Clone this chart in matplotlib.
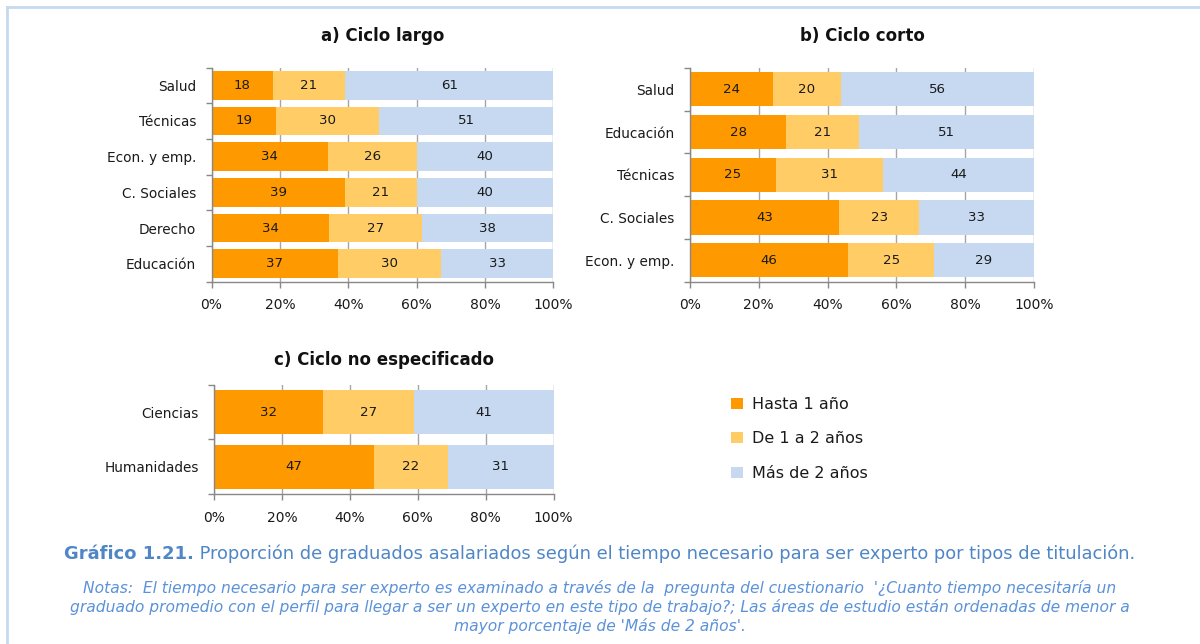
import matplotlib
matplotlib.use("Agg")
import matplotlib.pyplot as plt
from matplotlib.ticker import PercentFormatter, FixedLocator
from matplotlib.patches import Patch
from matplotlib.lines import Line2D
import numpy as np

# ---------------- data ----------------
series_names = ["Hasta 1 año", "De 1 a 2 años", "Más de 2 años"]
colors = ["#FF9900", "#FFCC66", "#C6D9F1"]

cat_a = ["Salud", "Técnicas", "Econ. y emp.", "C. Sociales", "Derecho", "Educación"]
hasta_a = [18, 19, 34, 39, 34, 37]
de1a2_a = [21, 30, 26, 21, 27, 30]
mas2_a = [61, 51, 40, 40, 38, 33]

cat_b = ["Salud", "Educación", "Técnicas", "C. Sociales", "Econ. y emp."]
hasta_b = [24, 28, 25, 43, 46]
de1a2_b = [20, 21, 31, 23, 25]
mas2_b = [56, 51, 44, 33, 29]

cat_c = ["Ciencias", "Humanidades"]
hasta_c = [32, 47]
de1a2_c = [27, 22]
mas2_c = [41, 31]

title_a = "a) Ciclo largo"
title_b = "b) Ciclo corto"
title_c = "c) Ciclo no especificado"

caption_bold = "Gráfico 1.21."
caption_rest = " Proporción de graduados asalariados según el tiempo necesario para ser experto por tipos de titulación."
notes = ("Notas:  El tiempo necesario para ser experto es examinado a través de la  pregunta del cuestionario  '¿Cuanto tiempo necesitaría un\n"
         "graduado promedio con el perfil para llegar a ser un experto en este tipo de trabajo?; Las áreas de estudio están ordenadas de menor a\n"
         "mayor porcentaje de 'Más de 2 años'.")

# ---------------- figure ----------------
W, H = 1200, 644
fig = plt.figure(figsize=(W / 100, H / 100), dpi=100)
plt.rcParams['font.family'] = ['DejaVu Sans']


def px_axes(x0, y0, x1, y1):
    """pixel box (top-left origin) -> figure axes"""
    return fig.add_axes([x0 / W, 1 - y1 / H, (x1 - x0) / W, (y1 - y0) / H])


def draw_panel(ax, cats, s1, s2, s3, title, title_y):
    n = len(cats)
    data = np.array([s1, s2, s3], dtype=float)
    tot = data.sum(axis=0)
    share = data / tot * 100
    pos = np.arange(n)
    left = np.zeros(n)
    for k in range(3):
        bc = ax.barh(pos, share[k], left=left, height=0.8, color=colors[k],
                     edgecolor='none', zorder=2, label=series_names[k])
        ax.bar_label(bc, labels=[str(int(v)) for v in data[k]], label_type='center',
                     fontsize=9.6, color='#1a1a1a')
        left += share[k]
    ax.set_xlim(0, 100)
    ax.set_ylim(n - 0.5, -0.5)
    ax.set_yticks(pos)
    ax.set_yticklabels(cats, fontsize=9.8, color='#1a1a1a')
    ax.yaxis.set_minor_locator(FixedLocator(np.arange(n + 1) - 0.5))
    ax.tick_params(axis='y', which='major', length=0, pad=11)
    ax.tick_params(axis='y', which='minor', length=4, color='#888888', width=1)
    ax.set_xticks(np.arange(0, 101, 20))
    ax.xaxis.set_major_formatter(PercentFormatter(decimals=0))
    ax.tick_params(axis='x', length=4, color='#888888', width=1, labelsize=10,
                   labelcolor='#1a1a1a', pad=8)
    ax.grid(axis='x', color='#A6A6A6', lw=1, zorder=0)
    ax.set_axisbelow(True)
    for s in ['top', 'right']:
        ax.spines[s].set_visible(False)
    for s in ['left', 'bottom']:
        ax.spines[s].set_color('#888888')
        ax.spines[s].set_linewidth(1)
    bb = ax.get_position()
    fig.text(bb.x0 + bb.width / 2, 1 - title_y / H, title, ha='center', va='center',
             fontsize=12, fontweight='bold', color='#111111')


ax_a = px_axes(211.5, 67.5, 553.5, 281.5)
draw_panel(ax_a, cat_a, hasta_a, de1a2_a, mas2_a, title_a, 36)

ax_b = px_axes(690, 68, 1034, 281.5)
draw_panel(ax_b, cat_b, hasta_b, de1a2_b, mas2_b, title_b, 36)

ax_c = px_axes(214.3, 384.7, 553.5, 494)
draw_panel(ax_c, cat_c, hasta_c, de1a2_c, mas2_c, title_c, 360)

# legend
handles = [Patch(facecolor=c, edgecolor='none') for c in colors]
fig.legend(handles, series_names, loc='upper left',
           bbox_to_anchor=(731 / W, 1 - 397 / H), frameon=False,
           fontsize=11.5, handlelength=0.75, handleheight=0.7,
           handletextpad=0.55, labelspacing=1.22, borderpad=0, borderaxespad=0,
           labelcolor='#1a1a1a')

# frame (light blue border lines)
fig.add_artist(Line2D([7 / W, 7 / W], [0, 1 - 7 / H], transform=fig.transFigure,
                      color='#C6D9F1', lw=2))
fig.add_artist(Line2D([7 / W, 1], [1 - 7 / H, 1 - 7 / H], transform=fig.transFigure,
                      color='#C6D9F1', lw=2))

# caption: bold part + regular part laid out side by side, centred
cap_color = '#4F86C6'
renderer = fig.canvas.get_renderer()
tb = fig.text(0, 0, caption_bold, fontsize=12.9, fontweight='bold', color=cap_color)
tr = fig.text(0, 0, caption_rest, fontsize=12.9, color=cap_color)
wb = tb.get_window_extent(renderer).width
wr = tr.get_window_extent(renderer).width
x0 = (W - (wb + wr)) / 2
yc = 1 - 554 / H
tb.set_position((x0 / W, yc)); tb.set_va('center')
tr.set_position(((x0 + wb) / W, yc)); tr.set_va('center')

fig.text(0.5, 1 - 607 / H, notes, ha='center', va='center', fontsize=11.2,
         style='italic', color='#5B92D8', linespacing=1.25)

fig.savefig("out.png", dpi=100, facecolor='white')
